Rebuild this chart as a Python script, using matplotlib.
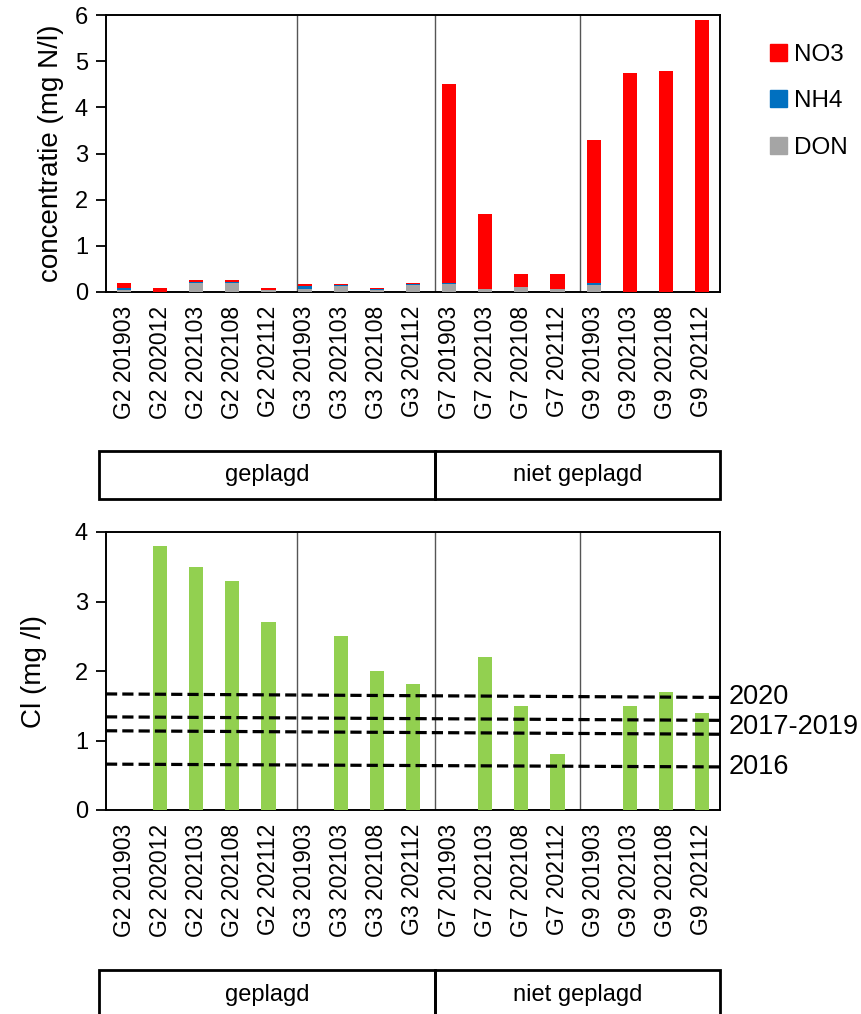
import matplotlib
matplotlib.use("Agg")
import matplotlib.pyplot as plt
from matplotlib.patches import Patch, Rectangle
from matplotlib.transforms import blended_transform_factory

plt.rcParams["font.family"] = ["Liberation Sans", "DejaVu Sans"]

# sample codes (location + yyyymm)
samples = [
    "G2 201903", "G2 202012", "G2 202103", "G2 202108", "G2 202112",
    "G3 201903", "G3 202103", "G3 202108", "G3 202112",
    "G7 201903", "G7 202103", "G7 202108", "G7 202112",
    "G9 201903", "G9 202103", "G9 202108", "G9 202112",
]

# nitrogen fractions (mg N/l), stacked DON -> NH4 -> NO3
don = [0.05, 0.0, 0.20, 0.20, 0.035, 0.07, 0.13, 0.035, 0.15,
       0.17, 0.07, 0.10, 0.07, 0.16, 0.0, 0.0, 0.0]
nh4 = [0.03, 0.0, 0.01, 0.02, 0.0, 0.06, 0.02, 0.02, 0.03,
       0.035, 0.0, 0.0, 0.0, 0.035, 0.0, 0.0, 0.0]
no3 = [0.11, 0.09, 0.06, 0.05, 0.05, 0.05, 0.03, 0.03, 0.02,
       4.30, 1.63, 0.30, 0.33, 3.10, 4.75, 4.78, 5.90]

# chloride (mg/l); 0 = not measured
cl = [0.0, 3.8, 3.5, 3.3, 2.7, 0.0, 2.5, 2.0, 1.82,
      0.0, 2.2, 1.5, 0.8, 0.0, 1.5, 1.7, 1.4]

# reference levels of Cl in rain (start, end of line)
ref_labels = ["2020", "2017-2019", "", "2016"]
ref_start = [1.67, 1.34, 1.14, 0.66]
ref_end = [1.62, 1.29, 1.09, 0.62]

# location separators and treatment groups
separators = [4.79, 8.61, 12.63]
groups = ["geplagd", "niet geplagd"]
group_edges = [-0.69, 8.61, 16.5]

RED = "#ff0000"
BLUE = "#0070c0"
GREY = "#a5a5a5"
GREEN = "#92d050"

W, H = 862, 1014
fig = plt.figure(figsize=(W / 100, H / 100), dpi=100)

ax1 = fig.add_axes([106 / W, 1 - 292 / H, 614 / W, 277 / H])
ax2 = fig.add_axes([106 / W, 1 - 810 / H, 614 / W, 278 / H])

x = range(len(samples))
bw = 0.39

bottom2 = [d + n for d, n in zip(don, nh4)]
ax1.bar(x, don, bw, color=GREY, zorder=3)
ax1.bar(x, nh4, bw, bottom=don, color=BLUE, zorder=3)
ax1.bar(x, no3, bw, bottom=bottom2, color=RED, zorder=3)
ax1.set_ylim(0, 6)
ax1.set_yticks(range(0, 7))
ax1.set_ylabel("concentratie (mg N/l)", fontsize=20, labelpad=8)

ax2.bar(x, cl, bw, color=GREEN, zorder=3)
ax2.set_ylim(0, 4)
ax2.set_yticks(range(0, 5))
ax2.set_ylabel("Cl (mg /l)", fontsize=20, labelpad=20)

for s, e, lab in zip(ref_start, ref_end, ref_labels):
    ax2.plot([-0.5, 16.5], [s, e], color="black", lw=2.3, ls=(0, (3.5, 1.6)),
             zorder=4, clip_on=False)
    if lab:
        yy = e if lab != "2017-2019" else (e + ref_end[2]) / 2
        ax2.text(16.75, yy, lab, fontsize=19.5, va="center", ha="left")

for ax in (ax1, ax2):
    ax.set_xlim(-0.5, 16.5)
    ax.set_xticks(list(x))
    ax.set_xticklabels(samples, rotation=90, fontsize=16.5)
    ax.tick_params(axis="x", length=0, pad=10)
    ax.tick_params(axis="y", direction="out", length=7, width=1.3, labelsize=17, pad=6)
    for sp in ax.spines.values():
        sp.set_linewidth(1.4)
    for s in separators:
        ax.axvline(s, color="#555555", lw=1.0, zorder=2)

    # group boxes under the tick labels
    trans = blended_transform_factory(ax.transData, fig.transFigure)
    if ax is ax1:
        y0, y1 = 1 - 499 / H, 1 - 451 / H
    else:
        y0, y1 = 1 - 1040 / H, 1 - 970 / H
    for g, a, b in zip(groups, group_edges[:-1], group_edges[1:]):
        fig.add_artist(Rectangle((a, y0), b - a, y1 - y0, transform=trans,
                                 fill=False, ec="black", lw=2.0, clip_on=False))
        ty = (y0 + y1) / 2 if ax is ax1 else 1 - 995 / H
        fig.text((a + b) / 2, ty, g, transform=trans, fontsize=17,
                 ha="center", va="center")

handles = [Patch(color=RED), Patch(color=BLUE), Patch(color=GREY)]
fig.legend(handles, ["NO3", "NH4", "DON"], loc="upper left",
           bbox_to_anchor=(748 / W, 1 - 22 / H), frameon=False, fontsize=17.5,
           handlelength=0.7, handleheight=0.7, handletextpad=0.3,
           labelspacing=1.0)

fig.savefig("out.png", dpi=100, facecolor="white")
